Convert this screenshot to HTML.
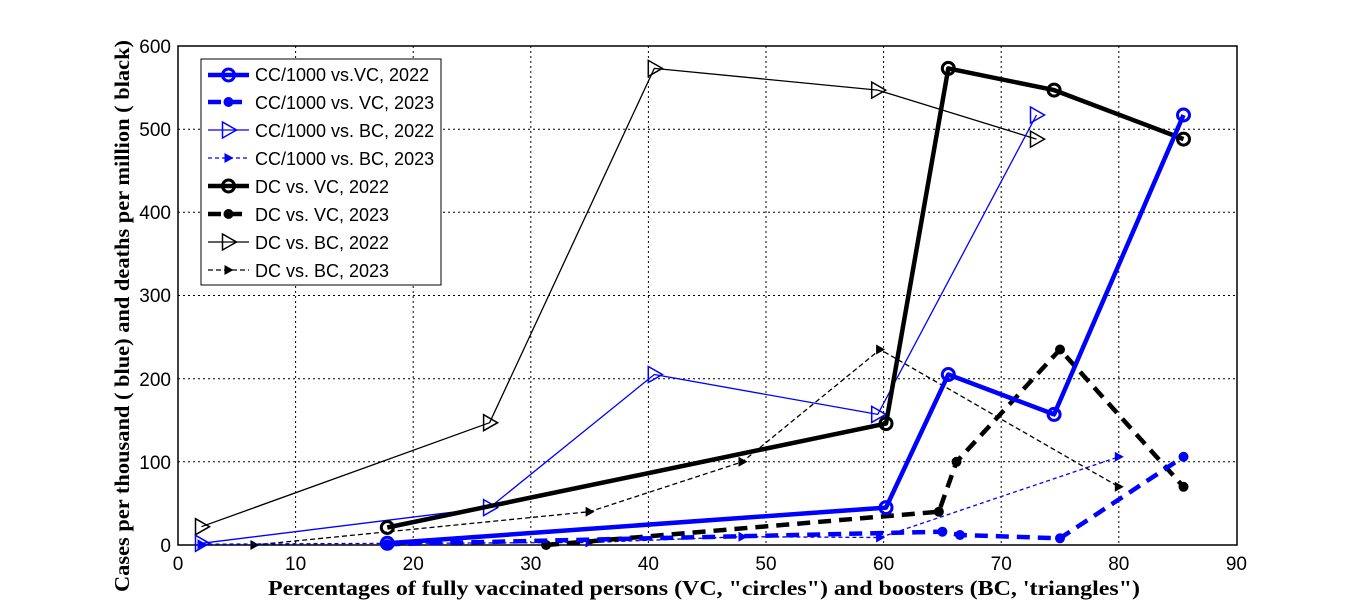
<!DOCTYPE html>
<html><head><meta charset="utf-8"><style>html,body{margin:0;padding:0;background:#fff}svg{display:block}</style></head>
<body>
<svg width="1366" height="613" viewBox="0 0 1366 613" xmlns="http://www.w3.org/2000/svg" font-family="Liberation Sans, Arial, sans-serif">
<defs>
<marker id="co" markerUnits="userSpaceOnUse" markerWidth="20" markerHeight="20" refX="10" refY="10"><circle cx="10" cy="10" r="6" fill="none" stroke="#0000ff" stroke-width="3"/></marker>
<marker id="ko" markerUnits="userSpaceOnUse" markerWidth="20" markerHeight="20" refX="10" refY="10"><circle cx="10" cy="10" r="6" fill="none" stroke="#000" stroke-width="3"/></marker>
<marker id="cd" markerUnits="userSpaceOnUse" markerWidth="20" markerHeight="20" refX="10" refY="10"><circle cx="10" cy="10" r="5" fill="#0000ff"/></marker>
<marker id="kd" markerUnits="userSpaceOnUse" markerWidth="20" markerHeight="20" refX="10" refY="10"><circle cx="10" cy="10" r="5" fill="#000"/></marker>
<marker id="ct" markerUnits="userSpaceOnUse" markerWidth="24" markerHeight="24" refX="12" refY="12"><polygon points="6,4 20,12 6,20" fill="none" stroke="#0000ff" stroke-width="1.5"/></marker>
<marker id="kt" markerUnits="userSpaceOnUse" markerWidth="24" markerHeight="24" refX="12" refY="12"><polygon points="6,4 20,12 6,20" fill="none" stroke="#000" stroke-width="1.5"/></marker>
<marker id="cs" markerUnits="userSpaceOnUse" markerWidth="20" markerHeight="20" refX="10" refY="10"><polygon points="6,5 15,10 6,15" fill="#0000ff"/></marker>
<marker id="ks" markerUnits="userSpaceOnUse" markerWidth="20" markerHeight="20" refX="10" refY="10"><polygon points="6,5 15,10 6,15" fill="#000"/></marker>
</defs>
<rect x="178" y="46" width="1059" height="499" fill="#fff"/>
<g stroke="#000" stroke-width="1" stroke-dasharray="2,3">
<line x1="295.6" y1="46" x2="295.6" y2="545"/><line x1="413.2" y1="46" x2="413.2" y2="545"/><line x1="530.8" y1="46" x2="530.8" y2="545"/><line x1="648.4" y1="46" x2="648.4" y2="545"/><line x1="766" y1="46" x2="766" y2="545"/><line x1="883.6" y1="46" x2="883.6" y2="545"/><line x1="1001.2" y1="46" x2="1001.2" y2="545"/><line x1="1118.8" y1="46" x2="1118.8" y2="545"/>
<line x1="178" y1="461.8" x2="1237" y2="461.8"/><line x1="178" y1="378.7" x2="1237" y2="378.7"/><line x1="178" y1="295.5" x2="1237" y2="295.5"/><line x1="178" y1="212.3" x2="1237" y2="212.3"/><line x1="178" y1="129.2" x2="1237" y2="129.2"/>
</g>
<rect x="178" y="46" width="1059" height="499" fill="none" stroke="#000" stroke-width="1.5"/>
<g fill="none" stroke-linejoin="round">
<polyline points="201.5,526.7 489.6,422.7 654.3,68.4 877.7,90.1 1036.5,139.1" stroke="#000" stroke-width="1.3" marker-start="url(#kt)" marker-mid="url(#kt)" marker-end="url(#kt)"/>
<polyline points="254.4,545 589.6,511.7 742.5,461.8 880.1,349.5 1118.8,486.8" stroke="#000" stroke-width="1.3" stroke-dasharray="5,3" marker-start="url(#ks)" marker-mid="url(#ks)" marker-end="url(#ks)"/>
<polyline points="201.5,543.3 489.6,507.6 654.3,374.5 877.7,414.4 1036.5,115" stroke="#0000ff" stroke-width="1.3" marker-start="url(#ct)" marker-mid="url(#ct)" marker-end="url(#ct)"/>
<polyline points="201.5,544.2 589.6,542.5 742.5,536.7 880.1,537.5 1118.8,456.8" stroke="#0000ff" stroke-width="1.3" stroke-dasharray="4,3" marker-start="url(#cs)" marker-mid="url(#cs)" marker-end="url(#cs)"/>
<polyline points="387.3,527.5 886,423.6 948.3,68.4 1054.1,90.1 1183.5,139.1" stroke="#000" stroke-width="4.5" marker-start="url(#ko)" marker-mid="url(#ko)" marker-end="url(#ko)"/>
<polyline points="546.1,545 938.9,511.7 956.5,461.8 1060,349.5 1183.5,486.8" stroke="#000" stroke-width="4.5" stroke-dasharray="13,8" marker-start="url(#kd)" marker-mid="url(#kd)" marker-end="url(#kd)"/>
<polyline points="387.3,543.3 886,507.6 948.3,374.5 1054.1,414.4 1183.5,115" stroke="#0000ff" stroke-width="4.5" marker-start="url(#co)" marker-mid="url(#co)" marker-end="url(#co)"/>
<polyline points="387.3,544.2 942.4,531.7 960,535 1060,538.3 1183.5,456.8" stroke="#0000ff" stroke-width="4.5" stroke-dasharray="13,8" marker-start="url(#cd)" marker-mid="url(#cd)" marker-end="url(#cd)"/>
</g>
<g font-size="19" fill="#000" text-anchor="end">
<text x="171" y="552">0</text><text x="171" y="469">100</text><text x="171" y="386">200</text><text x="171" y="302">300</text><text x="171" y="219">400</text><text x="171" y="136">500</text><text x="171" y="53">600</text>
</g>
<g font-size="19" fill="#000" text-anchor="middle">
<text x="178" y="570">0</text><text x="295.6" y="570">10</text><text x="413.2" y="570">20</text><text x="530.8" y="570">30</text><text x="648.4" y="570">40</text><text x="766" y="570">50</text><text x="883.6" y="570">60</text><text x="1001.2" y="570">70</text><text x="1118.8" y="570">80</text><text x="1236.4" y="570">90</text>
</g>
<text x="268" y="595" font-family="Liberation Serif, serif" font-weight="bold" font-size="21" textLength="872" lengthAdjust="spacingAndGlyphs">Percentages of fully vaccinated persons (VC, "circles") and boosters (BC, 'triangles")</text>
<text transform="translate(129,592) rotate(-90)" font-family="Liberation Serif, serif" font-weight="bold" font-size="21" textLength="552" lengthAdjust="spacingAndGlyphs">Cases per thousand ( blue) and deaths per million ( black)</text>
<rect x="201" y="59" width="240" height="226" fill="#fff" stroke="#000" stroke-width="1"/>
<g fill="none">
<polyline points="208,75 228.5,75 249,75" stroke="#0000ff" stroke-width="4.5" marker-mid="url(#co)"/>
<polyline points="208,102 228.5,102 249,102" stroke="#0000ff" stroke-width="4.5" stroke-dasharray="13,8" marker-mid="url(#cd)"/>
<polyline points="208,130 228.5,130 249,130" stroke="#0000ff" stroke-width="1.3" marker-mid="url(#ct)"/>
<polyline points="208,158 228.5,158 249,158" stroke="#0000ff" stroke-width="1.3" stroke-dasharray="4,3" marker-mid="url(#cs)"/>
<polyline points="208,186 228.5,186 249,186" stroke="#000" stroke-width="4.5" marker-mid="url(#ko)"/>
<polyline points="208,214 228.5,214 249,214" stroke="#000" stroke-width="4.5" stroke-dasharray="13,8" marker-mid="url(#kd)"/>
<polyline points="208,242 228.5,242 249,242" stroke="#000" stroke-width="1.3" marker-mid="url(#kt)"/>
<polyline points="208,270 228.5,270 249,270" stroke="#000" stroke-width="1.3" stroke-dasharray="5,3" marker-mid="url(#ks)"/>
</g>
<g font-size="18" fill="#000">
<text x="255" y="81">CC/1000 vs.VC, 2022</text>
<text x="255" y="109">CC/1000 vs. VC, 2023</text>
<text x="255" y="137">CC/1000 vs. BC, 2022</text>
<text x="255" y="165">CC/1000 vs. BC, 2023</text>
<text x="255" y="193">DC vs. VC, 2022</text>
<text x="255" y="221">DC vs. VC, 2023</text>
<text x="255" y="249">DC vs. BC, 2022</text>
<text x="255" y="277">DC vs. BC, 2023</text>
</g>
</svg>
</body></html>
